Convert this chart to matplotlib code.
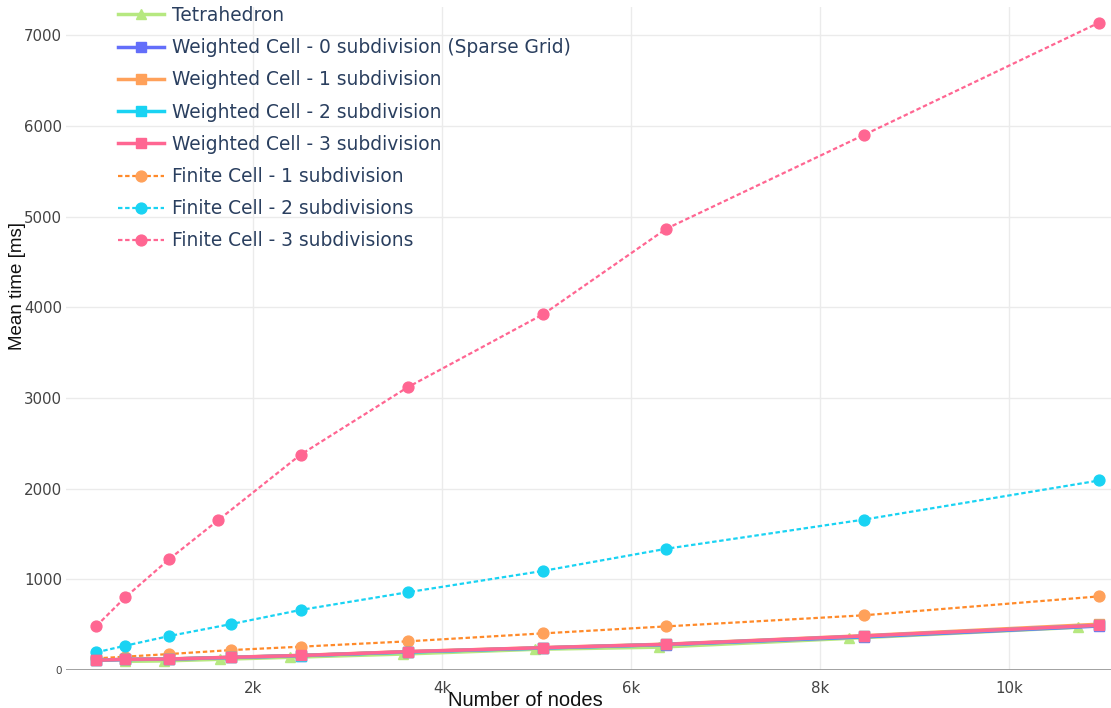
import matplotlib
matplotlib.use('Agg')
import matplotlib.pyplot as plt
from matplotlib.ticker import FuncFormatter

# node counts (x)
nodes = [339, 646, 1112, 1769, 2500, 3633, 5069, 6372, 8459, 10953]
nodes_fc3 = [339, 646, 1112, 1626, 2500, 3633, 5069, 6372, 8459, 10953]
nodes_tetra = [642, 1052, 1648, 2388, 3587, 4986, 6296, 8304, 10727]

# mean times in ms
tetra = [95, 100, 118, 140, 176, 228, 252, 349, 471]
wc0 = [106, 116, 120, 138, 158, 200, 243, 280, 365, 485]
wc1 = [108, 118, 122, 141, 161, 203, 247, 285, 378, 505]
wc2 = [107, 117, 121, 139, 159, 198, 243, 282, 372, 492]
wc3 = [107, 118, 121, 140, 160, 202, 246, 283, 375, 493]
fc1 = [128, 147, 176, 220, 257, 316, 404, 481, 603, 812]
fc2 = [195, 268, 375, 507, 662, 857, 1093, 1337, 1658, 2090]
fc3 = [485, 802, 1224, 1650, 2374, 3117, 3923, 4866, 5898, 7139]

plt.rcParams['font.family'] = ['DejaVu Sans']

fig = plt.figure(figsize=(11.11, 7.08), dpi=100)
ax = fig.add_axes([66 / 1111, 1 - 670 / 708, 1 - 66 / 1111, (670 - 7) / 708])

ms = 7.8
ax.plot(nodes_tetra, tetra, color='#B6E880', lw=2.5, marker='^', ms=ms, label='Tetrahedron', zorder=3)
ax.plot(nodes, wc0, color='#636EFA', lw=2.5, marker='s', ms=ms,
        label='Weighted Cell - 0 subdivision (Sparse Grid)', zorder=4)
ax.plot(nodes, wc1, color='#FFA15A', lw=2.5, marker='s', ms=ms, label='Weighted Cell - 1 subdivision', zorder=4)
ax.plot(nodes, wc2, color='#19D3F3', lw=2.5, marker='s', ms=ms, label='Weighted Cell - 2 subdivision', zorder=4)
ax.plot(nodes, wc3, color='#FF6692', lw=2.5, marker='s', ms=ms, label='Weighted Cell - 3 subdivision', zorder=4)
ax.plot(nodes, fc1, color='#FF8A2A', lw=1.6, ls=(0, (2, 1.2)), marker='o', ms=ms,
        mfc='#FFA15A', mec='#FFA15A', label='Finite Cell - 1 subdivision', zorder=3)
ax.plot(nodes, fc2, color='#19D3F3', lw=1.6, ls=(0, (2, 1.2)), marker='o', ms=ms,
        label='Finite Cell - 2 subdivisions', zorder=3)
ax.plot(nodes_fc3, fc3, color='#FF6692', lw=1.6, ls=(0, (2, 1.2)), marker='o', ms=ms,
        label='Finite Cell - 3 subdivisions', zorder=3)

ax.set_xlim(18, 11076)
ax.set_ylim(0, 7310)
ax.set_xticks([2000, 4000, 6000, 8000, 10000])
ax.set_yticks([0, 1000, 2000, 3000, 4000, 5000, 6000, 7000])
ax.xaxis.set_major_formatter(FuncFormatter(lambda v, p: f'{int(v / 1000)}k'))
ax.grid(True, color='#ebebeb', lw=1)
ax.set_axisbelow(True)
ax.axhline(0, color='#999999', lw=2, zorder=2)
for s in ax.spines.values():
    s.set_visible(False)
ax.tick_params(length=0, labelsize=10.8, labelcolor='#444444')
ax.tick_params(axis='x', pad=8)
ax.tick_params(axis='y', pad=3)
for lbl in ax.get_yticklabels():
    if lbl.get_text() == '0':
        lbl.set_fontsize(7.5)

fig.text(525 / 1111, 1 - 700 / 708, 'Number of nodes', ha='center', va='center',
         fontsize=14.5, color='#111111', family='Liberation Sans')
fig.text(18 / 1111, 1 - 286 / 708, 'Mean time [ms]', ha='center', va='center',
         rotation=90, fontsize=13.5, color='#111111', family='Liberation Sans')

leg = fig.legend(loc='upper left', bbox_to_anchor=(118 / 1111, 1 - 6 / 708), frameon=False,
                 fontsize=13.4, labelcolor='#2a3f5f', handlelength=2.45, handletextpad=0.45,
                 labelspacing=0.71, borderpad=0, borderaxespad=0, markerscale=1.0, numpoints=1)

fig.savefig('out.png', dpi=100)
